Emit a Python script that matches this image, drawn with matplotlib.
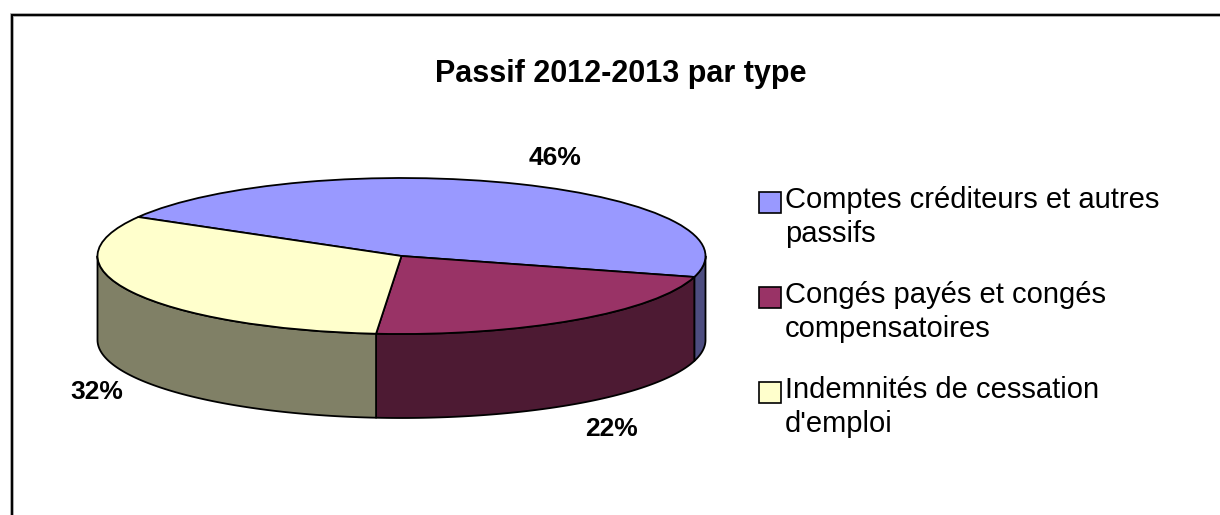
import matplotlib.pyplot as plt
import numpy as np
from matplotlib.patches import Wedge, Polygon, Rectangle

plt.rcParams['font.family'] = ['Liberation Sans', 'DejaVu Sans']

# data
categories = ["Comptes créditeurs et autres\npassifs",
              "Congés payés et congés\ncompensatoires",
              "Indemnités de cessation\nd'emploi"]
shares = [46, 22, 32]
top_colors = ['#9999FF', '#993366', '#FFFFCC']
side_colors = ['#4D4D80', '#4D1A33', '#808066']
title = "Passif 2012-2013 par type"

W, H = 1220, 515
fig = plt.figure(figsize=(W / 100, H / 100), dpi=100)

def fx(px):
    return px / W

def fy(py):
    return 1 - py / H

# pie geometry in pixels: centre of the top face, radii and thickness
cx, cy, rx, ry, depth_px = 401.5, 256, 304, 78, 84
depth = depth_px / ry
pad = 0.1
left_px = cx - rx * (1 + pad)
right_px = cx + rx * (1 + pad)
top_px = cy - ry * (1 + pad)
bot_px = cy + ry * (1 + depth + pad)
ax = fig.add_axes([fx(left_px), fy(bot_px), fx(right_px - left_px), (bot_px - top_px) / H])
ax.set_xlim(-1 - pad, 1 + pad)
ax.set_ylim(-1 - depth - pad, 1 + pad)
ax.axis('off')

start = 150.0
lw = 1.3
t2 = start
label_fx = [1.30, 1.21, 1.13]
label_fy = [1.36, 1.39, 1.44]
for i, v in enumerate(shares):
    t1 = t2 - v * 3.6
    # visible part of the rim (front half of the disc)
    for k in (-2, -1, 0):
        lo = max(t1, 180 + 360 * k)
        hi = min(t2, 360 + 360 * k)
        if lo < hi:
            th = np.radians(np.linspace(lo, hi, 80))
            top = np.column_stack([np.cos(th), np.sin(th)])
            bot = np.column_stack([np.cos(th[::-1]), np.sin(th[::-1]) - depth])
            ax.add_patch(Polygon(np.vstack([top, bot]), closed=True,
                                 facecolor=side_colors[i], edgecolor='black',
                                 linewidth=lw, joinstyle='round'))
    ax.add_patch(Wedge((0, 0), 1, t1, t2, facecolor=top_colors[i],
                       edgecolor='black', linewidth=lw, joinstyle='round'))
    mid = np.radians((t1 + t2) / 2)
    lx = label_fx[i] * np.cos(mid)
    ly = label_fy[i] * np.sin(mid)
    if np.sin(mid) < 0:
        ly -= depth
    ax.text(lx, ly, f"{v}%", ha='center', va='center', fontsize=19,
            fontweight='bold')
    t2 = t1

fig.text(fx(621), fy(74), title, ha='center', va='center', fontsize=22,
         fontweight='bold')

# legend, marker aligned with the first line of each entry
for i, name in enumerate(categories):
    base = 208 + 95 * i
    fig.add_artist(Rectangle((fx(759), fy(base + 5)), fx(22), 21 / H,
                             transform=fig.transFigure, facecolor=top_colors[i],
                             edgecolor='black', linewidth=1.2))
    for j, line in enumerate(name.split('\n')):
        fig.text(fx(785), fy(base + 34 * j), line, ha='left', va='baseline',
                 fontsize=21)

# chart area border, running off the right and bottom edges
fig.add_artist(Rectangle((fx(11.5), fy(H + 20)), fx(W), (H + 20 - 14.5) / H,
                         transform=fig.transFigure, facecolor='none',
                         edgecolor='#999999', linewidth=2.6))
fig.add_artist(Rectangle((fx(12), fy(H + 20)), fx(W), (H + 20 - 15) / H,
                         transform=fig.transFigure, facecolor='none',
                         edgecolor='black', linewidth=1.4))

fig.savefig('out.png', dpi=100)
